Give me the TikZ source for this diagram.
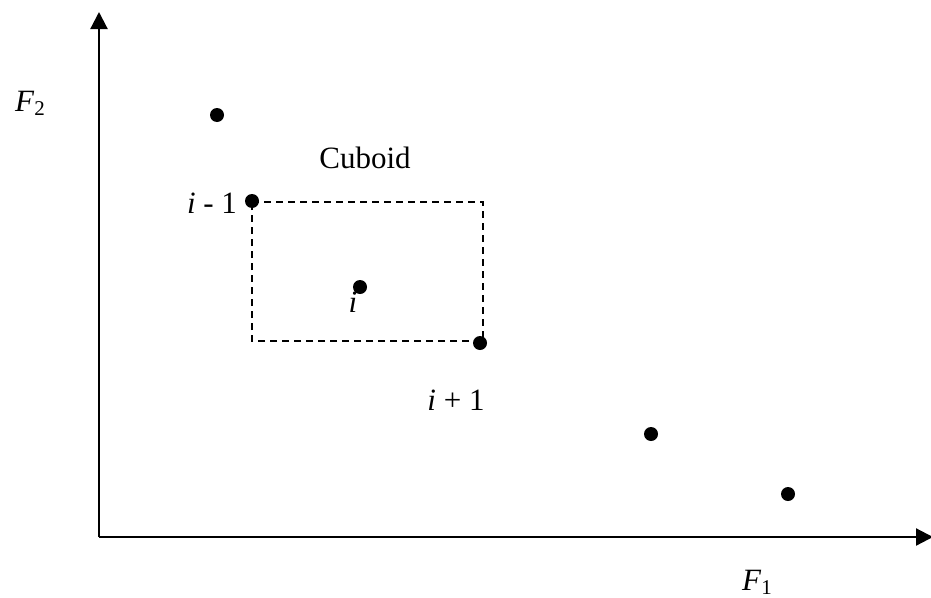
\documentclass[tikz,border=0pt]{standalone}
\usepackage{fontspec}
\setmainfont{Liberation Serif}
\usetikzlibrary{arrows.meta}
\begin{document}
\begin{tikzpicture}[x=1pt,y=-1pt,
  axis/.style={line width=2.2pt,-{Triangle[length=17pt,width=17pt]}},
  pt/.style={circle,fill=black,inner sep=0pt,minimum size=14pt},
  lbl/.style={inner sep=0pt,font=\fontsize{31}{36}\selectfont},
  box/.style={line width=1.8pt,dash pattern=on 7pt off 5pt}]
\useasboundingbox (0,0) rectangle (931,597);
\coordinate (O) at (99,537);
\coordinate (ytop) at (99,12);
\coordinate (xend) at (933,537);
\draw[axis] (O) -- (ytop);
\draw[axis] (O) -- (xend);
\coordinate (c1) at (252,202);
\coordinate (c2) at (483,202);
\coordinate (c3) at (483,341);
\coordinate (c4) at (252,341);
\draw[box] (c1) -- (c2) -- (c3) -- (c4) -- cycle;
\node[pt] (p0) at (217,115) {};
\node[pt] (p1) at (252,201) {};
\node[pt] (p2) at (360,287) {};
\node[pt] (p3) at (480,343) {};
\node[pt] (p4) at (651,434) {};
\node[pt] (p5) at (788,494) {};
\node[lbl] (f2) at (30,103) {\textit{F}\raisebox{-0.3ex}{\fontsize{21}{24}\selectfont 2}};
\node[lbl] (f1) at (757,582) {\textit{F}\raisebox{-0.3ex}{\fontsize{21}{24}\selectfont 1}};
\node[lbl] (cub) at (365,158) {Cuboid};
\node[lbl] (im1) at (212,203) {\textit{i} - 1};
\node[lbl] (ii) at (353,302) {\textit{i}};
\node[lbl] (ip1) at (456,400) {\textit{i} + 1};
\end{tikzpicture}
\end{document}
